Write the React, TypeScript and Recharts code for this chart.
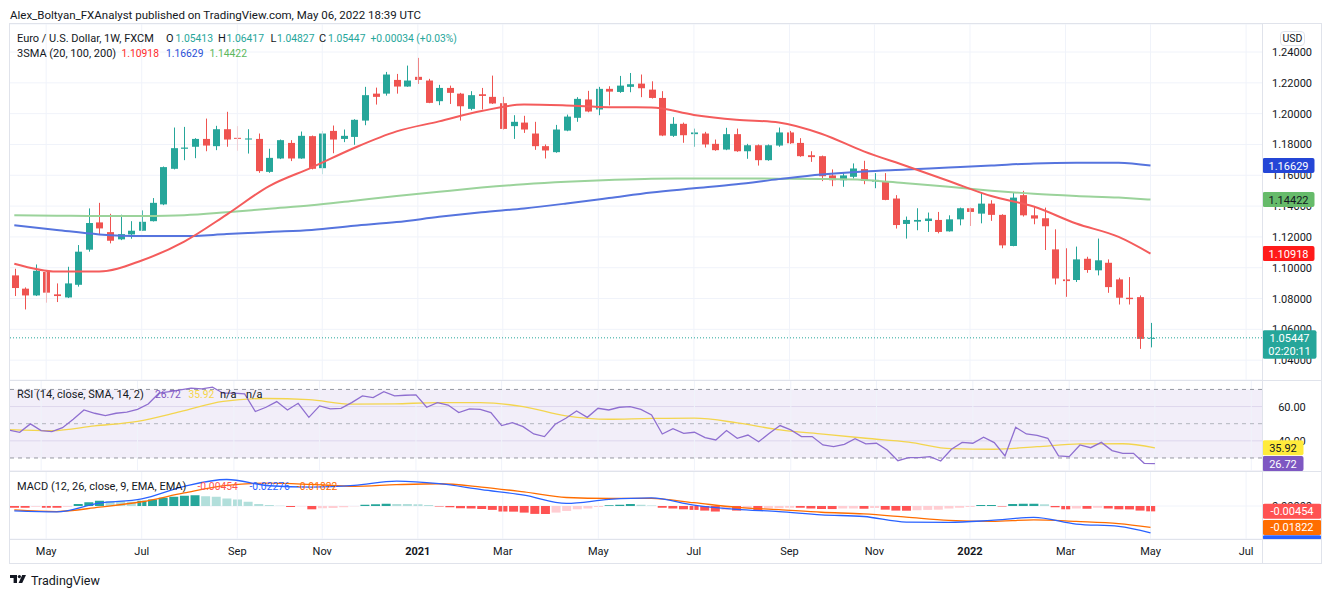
import React from 'react'
import { ComposedChart, Bar, Line, XAxis, YAxis, CartesianGrid, ReferenceLine, ReferenceArea, Cell } from 'recharts'

// weekly EUR/USD candles, first bar = week of 2020-04-13
const opens = [1.0950, 1.0864, 1.0820, 1.0972, 1.0827, 1.0807, 1.0889, 1.1117, 1.1294, 1.1231, 1.1184, 1.1216, 1.1240, 1.1302, 1.1411, 1.1642, 1.1772, 1.1785, 1.1836, 1.1789, 1.1899, 1.1843, 1.1832, 1.1836, 1.1622, 1.1709, 1.1810, 1.1709, 1.1854, 1.1646, 1.1888, 1.1836, 1.1849, 1.1955, 1.2130, 1.2130, 1.2219, 1.2176, 1.2239, 1.2215, 1.2081, 1.2167, 1.2130, 1.2031, 1.2126, 1.2109, 1.2068, 1.1919, 1.1942, 1.1871, 1.1789, 1.1750, 1.1890, 1.1973, 1.2092, 1.2027, 1.2161, 1.2141, 1.2174, 1.2195, 1.2156, 1.2102, 1.1856, 1.1934, 1.1867, 1.1871, 1.1804, 1.1767, 1.1867, 1.1756, 1.1795, 1.1698, 1.1793, 1.1878, 1.1810, 1.1730, 1.1724, 1.1599, 1.1568, 1.1590, 1.1640, 1.1559, 1.1559, 1.1449, 1.1284, 1.1299, 1.1303, 1.1310, 1.1236, 1.1314, 1.1386, 1.1351, 1.1416, 1.1343, 1.1141, 1.1471, 1.1340, 1.1321, 1.1119, 1.0924, 1.0920, 1.1058, 1.0983, 1.1032, 1.0924, 1.0805, 1.0809, 1.05413]
const highs = [1.0993, 1.0872, 1.1021, 1.0976, 1.0898, 1.1006, 1.1147, 1.1385, 1.1421, 1.1350, 1.1344, 1.1302, 1.1372, 1.1452, 1.1657, 1.1910, 1.1914, 1.1841, 1.1968, 1.1921, 1.2012, 1.1919, 1.1899, 1.1871, 1.1772, 1.1832, 1.1828, 1.1884, 1.1858, 1.1888, 1.1923, 1.1897, 1.1964, 1.2174, 1.2169, 1.2271, 1.2258, 1.2312, 1.2362, 1.2226, 1.2187, 1.2182, 1.2135, 1.2146, 1.2167, 1.2247, 1.2109, 1.1990, 1.1986, 1.1947, 1.1800, 1.1927, 1.1994, 1.2107, 1.2148, 1.2174, 1.2178, 1.2245, 1.2264, 1.2254, 1.2210, 1.2146, 1.1977, 1.1942, 1.1903, 1.1882, 1.1832, 1.1908, 1.1903, 1.1804, 1.1800, 1.1800, 1.1910, 1.1888, 1.1841, 1.1756, 1.1728, 1.1638, 1.1620, 1.1677, 1.1694, 1.1614, 1.1614, 1.1471, 1.1332, 1.1386, 1.1358, 1.1362, 1.1340, 1.1390, 1.1390, 1.1488, 1.1438, 1.1347, 1.1488, 1.1499, 1.1397, 1.1390, 1.1249, 1.1126, 1.1137, 1.1071, 1.1189, 1.1054, 1.0935, 1.0939, 1.0820, 1.06417]
const lows = [1.0816, 1.0729, 1.0816, 1.0773, 1.0777, 1.0803, 1.0877, 1.1104, 1.1218, 1.1158, 1.1179, 1.1188, 1.1238, 1.1300, 1.1406, 1.1638, 1.1698, 1.1711, 1.1756, 1.1763, 1.1785, 1.1759, 1.1741, 1.1616, 1.1616, 1.1705, 1.1692, 1.1707, 1.1638, 1.1607, 1.1743, 1.1815, 1.1798, 1.1925, 1.2059, 1.2117, 1.2130, 1.2174, 1.2193, 1.2068, 1.2055, 1.2063, 1.1955, 1.2022, 1.2027, 1.2063, 1.1897, 1.1836, 1.1875, 1.1765, 1.1709, 1.1746, 1.1886, 1.1947, 1.2009, 1.1990, 1.2053, 1.2135, 1.2139, 1.2107, 1.2098, 1.1854, 1.1849, 1.1811, 1.1785, 1.1780, 1.1759, 1.1763, 1.1752, 1.1707, 1.1663, 1.1694, 1.1785, 1.1804, 1.1720, 1.1687, 1.1562, 1.1529, 1.1525, 1.1579, 1.1542, 1.1516, 1.1438, 1.1254, 1.1189, 1.1243, 1.1232, 1.1223, 1.1234, 1.1275, 1.1271, 1.1288, 1.1304, 1.1126, 1.1139, 1.1332, 1.1282, 1.1115, 1.0891, 1.0811, 1.0907, 1.0967, 1.0950, 1.0837, 1.0761, 1.0761, 1.0473, 1.04827]
const closes = [1.0868, 1.0820, 1.0980, 1.0838, 1.0816, 1.0898, 1.1104, 1.1290, 1.1255, 1.1175, 1.1218, 1.1240, 1.1298, 1.1421, 1.1653, 1.1776, 1.1780, 1.1836, 1.1793, 1.1899, 1.1832, 1.1839, 1.1839, 1.1627, 1.1713, 1.1828, 1.1709, 1.1856, 1.1642, 1.1871, 1.1832, 1.1856, 1.1960, 1.2120, 1.2109, 1.2254, 1.2176, 1.2215, 1.2219, 1.2070, 1.2167, 1.2135, 1.2048, 1.2120, 1.2115, 1.2066, 1.1901, 1.1947, 1.1897, 1.1789, 1.1761, 1.1897, 1.1981, 1.2096, 1.2014, 1.2161, 1.2143, 1.2182, 1.2191, 1.2165, 1.2102, 1.1858, 1.1934, 1.1860, 1.1878, 1.1800, 1.1763, 1.1867, 1.1756, 1.1795, 1.1698, 1.1795, 1.1878, 1.1808, 1.1724, 1.1718, 1.1594, 1.1568, 1.1599, 1.1644, 1.1564, 1.1570, 1.1440, 1.1277, 1.1310, 1.1310, 1.1319, 1.1232, 1.1314, 1.1386, 1.1362, 1.1416, 1.1343, 1.1145, 1.1455, 1.1340, 1.1319, 1.1269, 1.0930, 1.0913, 1.1054, 1.0985, 1.1048, 1.0874, 1.0805, 1.0796, 1.0538, 1.05447]

// moving averages read every 4th bar (plus the last bar)
const sma20 = [1.1026, 1.0975, 1.0975, 1.1047, 1.1170, 1.1345, 1.1530, 1.1650, 1.1777, 1.1885, 1.1950, 1.2017, 1.2059, 1.2053, 1.2042, 1.2040, 1.1992, 1.1961, 1.1943, 1.1870, 1.1755, 1.1660, 1.1563, 1.1465, 1.1397, 1.1287, 1.1200, 1.10918]
const sma100 = [1.1276, 1.1245, 1.1216, 1.1205, 1.1205, 1.1218, 1.1232, 1.1245, 1.1272, 1.1296, 1.1330, 1.1360, 1.1385, 1.1417, 1.1452, 1.1488, 1.1515, 1.1542, 1.1575, 1.1605, 1.1625, 1.1637, 1.1650, 1.1663, 1.1677, 1.1682, 1.1682, 1.16629]
const sma200 = [1.1341, 1.1338, 1.1335, 1.1336, 1.1341, 1.1360, 1.1383, 1.1405, 1.1435, 1.1465, 1.1493, 1.1520, 1.1542, 1.1558, 1.1569, 1.1577, 1.1579, 1.1579, 1.1578, 1.1576, 1.1570, 1.1548, 1.1525, 1.1500, 1.1480, 1.1466, 1.1455, 1.14422]

const rsi = [46.3, 45.0, 49.9, 46.0, 45.4, 47.7, 52.6, 58.0, 56.1, 54.7, 56.1, 56.7, 58.4, 61.5, 67.8, 68.7, 69.7, 70.7, 70.3, 71.3, 67.8, 67.8, 67.4, 57.1, 59.6, 62.9, 58.0, 61.9, 53.7, 60.4, 58.6, 59.0, 62.3, 66.2, 65.2, 68.7, 66.2, 66.6, 66.8, 59.6, 62.3, 60.9, 56.5, 58.6, 58.4, 56.5, 48.9, 50.6, 48.3, 44.0, 42.5, 49.7, 53.2, 57.4, 53.7, 59.0, 58.0, 59.6, 60.0, 58.4, 55.1, 44.0, 47.1, 44.4, 45.0, 41.9, 40.5, 46.0, 41.5, 43.4, 39.5, 44.4, 48.9, 46.4, 42.5, 42.5, 37.6, 36.6, 38.0, 41.3, 38.2, 38.6, 34.7, 28.4, 30.2, 30.2, 30.8, 28.2, 35.1, 39.1, 38.6, 42.1, 39.0, 31.2, 47.9, 44.0, 43.2, 41.5, 31.2, 30.8, 37.6, 36.0, 39.1, 34.3, 32.7, 32.7, 26.9, 26.72]
const rsiMa = [46.5, 45.9, 48.7, 51.4, 57.0, 63.0, 64.7, 64.0, 61.4, 61.6, 62.3, 62.3, 60.0, 54.6, 52.6, 53.1, 53.2, 50.5, 46.4, 43.9, 41.5, 39.3, 35.4, 35.1, 36.6, 38.2, 38.3, 35.92]

const macdLine = [-0.0042, -0.0050, 0.0025, 0.0061, 0.0167, 0.0225, 0.0172, 0.0161, 0.0175, 0.0211, 0.0189, 0.0139, 0.0092, 0.0022, 0.0056, 0.0069, 0.0008, -0.0028, -0.0047, -0.0075, -0.0089, -0.0136, -0.0139, -0.0122, -0.0097, -0.0153, -0.0172, -0.02276]
const signalLine = [-0.0033, -0.0047, -0.0010, 0.0036, 0.0111, 0.0175, 0.0194, 0.0183, 0.0167, 0.0181, 0.0189, 0.0161, 0.0119, 0.0072, 0.0064, 0.0064, 0.0028, -0.0011, -0.0031, -0.0053, -0.0067, -0.0094, -0.0122, -0.0131, -0.0117, -0.0131, -0.0150, -0.01822]
const macdHist = [-0.0014, -0.0015, -0.0006, -0.0014, -0.0015, -0.0006, 0.0017, 0.0031, 0.0044, 0.0043, 0.0042, 0.0036, 0.0044, 0.0056, 0.0069, 0.0078, 0.0086, 0.0092, 0.0083, 0.0078, 0.0064, 0.0056, 0.0036, 0.0017, 0.0008, 0.0003, -0.0008, -0.0003, -0.0028, -0.0019, -0.0018, -0.0011, -0.0002, 0.0011, 0.0014, 0.0019, 0.0017, 0.0016, 0.0014, 0.0008, -0.0004, -0.0011, -0.0019, -0.0022, -0.0025, -0.0033, -0.0047, -0.0048, -0.0056, -0.0067, -0.0068, -0.0056, -0.0042, -0.0028, -0.0022, -0.0008, 0.0006, 0.0011, 0.0017, 0.0011, 0.0005, -0.0014, -0.0022, -0.0028, -0.0033, -0.0039, -0.0047, -0.0033, -0.0039, -0.0019, -0.0042, -0.0022, -0.0019, -0.0014, -0.0015, -0.0022, -0.0025, -0.0026, -0.0022, -0.0021, -0.0023, -0.0017, -0.0031, -0.0039, -0.0040, -0.0036, -0.0033, -0.0031, -0.0022, -0.0014, -0.0008, 0.0008, 0.0009, -0.0005, 0.0017, 0.0019, 0.0020, 0.0014, -0.0011, -0.0028, -0.0022, -0.0023, -0.0014, -0.0022, -0.0028, -0.0029, -0.0039, -0.00454]

const priceTicks = [1.04, 1.06, 1.08, 1.1, 1.12, 1.14, 1.16, 1.18, 1.2, 1.22, 1.24]
const rsiTicks = [40, 60]
const macdTicks = [0]
const MONTHS = ['Jan', 'Feb', 'Mar', 'Apr', 'May', 'Jun', 'Jul', 'Aug', 'Sep', 'Oct', 'Nov', 'Dec']

const PRICE_DOMAIN = [1.0271, 1.2582]
const RSI_DOMAIN = [22.4, 75.5]
const MACD_DOMAIN = [-0.028, 0.0297]

const TOTAL_WEEKS = 118
const weeks: string[] = []
for (let i = 0; i < TOTAL_WEEKS; i++) {
  weeks.push(new Date(Date.UTC(2020, 3, 13 + 7 * i)).toISOString().slice(0, 10))
}

const labelOf: Record<string, string> = {}
weeks.forEach((w, i) => {
  if (i === 0) return
  const m = new Date(w).getUTCMonth()
  if (m === new Date(weeks[i - 1]).getUTCMonth() || m % 2) return
  labelOf[w] = m === 0 ? String(new Date(w).getUTCFullYear()) : MONTHS[m]
})
const gridWeeks = Object.keys(labelOf)

const LAST = opens.length - 1
const sampleAt = (i: number) => (i === LAST ? sma20.length - 1 : i % 4 === 0 && i < LAST ? i / 4 : -1)

const rows = weeks.map((week, i) => {
  const s = sampleAt(i)
  const pick = (arr: number[]) => (s >= 0 ? arr[s] : null)
  return {
    week,
    o: i <= LAST ? opens[i] : null,
    h: i <= LAST ? highs[i] : null,
    l: i <= LAST ? lows[i] : null,
    c: i <= LAST ? closes[i] : null,
    sma20: pick(sma20),
    sma100: pick(sma100),
    sma200: pick(sma200),
    rsi: i <= LAST ? rsi[i] : null,
    rsiMa: pick(rsiMa),
    macd: pick(macdLine),
    signal: pick(signalLine),
    hist: i <= LAST ? macdHist[i] : null,
  }
})

const UP = '#26a69a'
const DOWN = '#ef5350'
const TXT = '#131722'
const GRID = '#f0f3fa'
const CHART_W = 1313
const MARGIN = { top: 0, right: 0, bottom: 0, left: 0 }

const histColor = (i: number) => {
  const v = macdHist[i]
  const prev = i > 0 ? macdHist[i - 1] : 0
  if (v >= 0) return v >= prev ? '#26a69a' : '#b2dfdb'
  return v < prev ? '#ff5252' : '#ffcdd2'
}

const Candle = (props: any) => {
  const { x, y, width, height, payload } = props
  if (payload.o == null || !isFinite(y)) return <g />
  const { o, h, l, c } = payload
  const top = Math.min(y, y + height)
  const H = Math.abs(height)
  const k = H / (h - l)
  const cx = Math.round(x + width / 2) + 0.5
  const bTop = top + (h - Math.max(o, c)) * k
  const bBot = top + (h - Math.min(o, c)) * k
  const col = c >= o ? UP : DOWN
  return (
    <g>
      <line x1={cx} x2={cx} y1={top} y2={top + H} stroke={col} strokeWidth={1} />
      <rect x={cx - 3.5} y={bTop} width={7} height={Math.max(1, bBot - bTop)} fill={col} />
    </g>
  )
}

const ValueTick = (props: any) => {
  const { x, y, payload, digits } = props
  return (
    <text x={x + 22} y={y} dy={4} textAnchor="middle" fontSize={11} fill={TXT}>
      {Number(payload.value).toFixed(digits)}
    </text>
  )
}

const TimeTick = (props: any) => {
  const { x, y, payload } = props
  const lab = labelOf[payload.value]
  if (!lab) return <g />
  return (
    <text x={x} y={y} dy={8} textAnchor="middle" fontSize={11} fontWeight={/^\d/.test(lab) ? 700 : 400} fill={TXT}>
      {lab}
    </text>
  )
}

const Tag = (props: any) => {
  const { viewBox, text, sub, bg, fg = '#fff', w, shift = 0, clip } = props
  if (!viewBox) return null
  const x = viewBox.x + viewBox.width + 0.5
  const cy = viewBox.y + shift
  const h = sub ? 28.5 : 15
  const top = cy - 7.5
  const hh = clip != null ? clip : h
  return (
    <g>
      <rect x={x} y={top} width={w} height={hh} rx={2} fill={bg} />
      {clip == null && (
        <text x={x + w / 2} y={cy + 4} textAnchor="middle" fontSize={11} fill={fg}>{text}</text>
      )}
      {sub && (
        <text x={x + w / 2} y={cy + 17.5} textAnchor="middle" fontSize={11} fill={fg}>{sub}</text>
      )}
    </g>
  )
}

// transparent chart on top of a pane that only carries the price tags
const TagLayer = ({ height, domain, axisH = 0, children }: any) => (
  <ComposedChart width={CHART_W} height={height} data={rows} margin={MARGIN}>
    <XAxis dataKey="week" type="category" height={axisH} tick={false} axisLine={false} tickLine={false} hide={axisH === 0} />
    <YAxis orientation="right" width={60} type="number" domain={domain} allowDataOverflow tick={false} axisLine={false} tickLine={false} />
    {children}
  </ComposedChart>
)

const Seg = ({ x, y, color = TXT, size = 11, children }: any) => (
  <div style={{ position: 'absolute', left: x, top: y - 8, height: 16, lineHeight: '16px', fontSize: size, color, whiteSpace: 'nowrap' }}>
    {children}
  </div>
)
const Num = (p: any) => <Seg size={10.3} {...p} />

const HLine = ({ x, y, w }: any) => <div style={{ position: 'absolute', left: x, top: y, width: w, height: 1, background: '#e0e3eb' }} />
const VLine = ({ x, y, h }: any) => <div style={{ position: 'absolute', left: x, top: y, width: 1, height: h, background: '#e0e3eb' }} />

const monthLines = gridWeeks.map((w) => <ReferenceLine key={w} x={w} stroke={GRID} strokeWidth={1} />)

const abs = (top: number): React.CSSProperties => ({ position: 'absolute', left: 9, top })

export default function App() {
  const lastRsiMa = rsiMa[rsiMa.length - 1]
  const last20 = sma20[sma20.length - 1]
  const last100 = sma100[sma100.length - 1]
  const last200 = sma200[sma200.length - 1]
  const lastMacd = macdLine[macdLine.length - 1]
  const lastSignal = signalLine[signalLine.length - 1]
  return (
    <div style={{ position: 'absolute', left: 0, top: 0, width: 1332, height: 597, background: '#fff', fontFamily: 'Roboto, sans-serif', color: TXT, overflow: 'hidden' }}>
      <Seg x={10} y={15} size={11.5}>Alex_Boltyan_FXAnalyst published on TradingView.com, May 06, 2022 18:39 UTC</Seg>

      {/* price pane */}
      <div style={abs(24)}>
        <ComposedChart width={CHART_W} height={356} data={rows} margin={MARGIN}>
          <CartesianGrid vertical={false} stroke={GRID} />
          {monthLines}
          <XAxis dataKey="week" type="category" hide />
          <YAxis orientation="right" width={60} type="number" domain={PRICE_DOMAIN} allowDataOverflow ticks={priceTicks} axisLine={false} tickLine={false} tick={<ValueTick digits={5} />} />
          <ReferenceLine y={closes[LAST]} stroke={UP} strokeDasharray="1 2" />
          <Bar dataKey={(d: any) => (d.o == null ? null : [d.l, d.h])} barSize={7} shape={<Candle />} isAnimationActive={false} />
          <Line type="monotone" dataKey="sma200" stroke="#9bd39b" strokeWidth={2} dot={false} connectNulls isAnimationActive={false} />
          <Line type="monotone" dataKey="sma100" stroke="#5674de" strokeWidth={2} dot={false} connectNulls isAnimationActive={false} />
          <Line type="monotone" dataKey="sma20" stroke="#f45c5c" strokeWidth={2} dot={false} connectNulls isAnimationActive={false} />
        </ComposedChart>
      </div>
      <div style={abs(24)}>
        <TagLayer height={356} domain={PRICE_DOMAIN}>
          <ReferenceLine y={last100} stroke="none" label={<Tag text={last100.toFixed(5)} bg="#2446d6" w={52} />} />
          <ReferenceLine y={last200} stroke="none" label={<Tag text={last200.toFixed(5)} bg="#66bb6a" fg={TXT} w={52} />} />
          <ReferenceLine y={last20} stroke="none" label={<Tag text={last20.toFixed(5)} bg="#ff1a1a" w={52} />} />
          <ReferenceLine y={closes[LAST]} stroke="none" label={<Tag text={closes[LAST].toFixed(5)} sub="02:20:11" bg={UP} w={54} />} />
        </TagLayer>
      </div>

      {/* RSI pane */}
      <div style={abs(380)}>
        <ComposedChart width={CHART_W} height={91} data={rows} margin={MARGIN}>
          <ReferenceArea y1={30} y2={70} fill="#7e57c2" fillOpacity={0.1} stroke="none" />
          <CartesianGrid vertical={false} stroke="#e9e6f2" />
          {monthLines}
          <XAxis dataKey="week" type="category" hide />
          <YAxis orientation="right" width={60} type="number" domain={RSI_DOMAIN} allowDataOverflow ticks={rsiTicks} axisLine={false} tickLine={false} tick={<ValueTick digits={2} />} />
          <ReferenceLine y={70} stroke="#9598a1" strokeDasharray="4 4" />
          <ReferenceLine y={50} stroke="#b2b5be" strokeDasharray="4 4" />
          <ReferenceLine y={30} stroke="#9598a1" strokeDasharray="4 4" />
          <Line type="monotone" dataKey="rsiMa" stroke="#f3d54e" strokeWidth={1.3} dot={false} connectNulls isAnimationActive={false} />
          <Line type="linear" dataKey="rsi" stroke="#8f6fd0" strokeWidth={1.3} dot={false} isAnimationActive={false} />
        </ComposedChart>
      </div>
      <div style={abs(380)}>
        <TagLayer height={91} domain={RSI_DOMAIN}>
          <ReferenceLine y={lastRsiMa} stroke="none" label={<Tag text={lastRsiMa.toFixed(2)} bg="#ffeb3b" fg={TXT} w={41} />} />
          <ReferenceLine y={rsi[LAST]} stroke="none" label={<Tag text={rsi[LAST].toFixed(2)} bg="#7e57c2" w={41} />} />
        </TagLayer>
      </div>

      {/* MACD pane + time axis */}
      <div style={abs(471)}>
        <ComposedChart width={CHART_W} height={92} data={rows} margin={MARGIN}>
          <CartesianGrid vertical={false} stroke={GRID} />
          {monthLines}
          <XAxis dataKey="week" type="category" height={24} interval={0} axisLine={false} tickLine={false} tick={<TimeTick />} />
          <YAxis orientation="right" width={60} type="number" domain={MACD_DOMAIN} allowDataOverflow ticks={macdTicks} axisLine={false} tickLine={false} tick={<ValueTick digits={5} />} />
          <Bar dataKey="hist" barSize={9} isAnimationActive={false}>
            {rows.map((r, i) => (
              <Cell key={r.week} fill={i <= LAST ? histColor(i) : 'none'} />
            ))}
          </Bar>
          <Line type="monotone" dataKey="signal" stroke="#ff6d00" strokeWidth={1.3} dot={false} connectNulls isAnimationActive={false} />
          <Line type="monotone" dataKey="macd" stroke="#2962ff" strokeWidth={1.3} dot={false} connectNulls isAnimationActive={false} />
        </ComposedChart>
      </div>
      <div style={abs(471)}>
        <TagLayer height={92} domain={MACD_DOMAIN} axisH={24}>
          <ReferenceLine y={macdHist[LAST]} stroke="none" label={<Tag text={macdHist[LAST].toFixed(5)} bg="#ff5252" w={59} />} />
          <ReferenceLine y={lastSignal} stroke="none" label={<Tag text={lastSignal.toFixed(5)} bg="#ff6d00" w={59} />} />
          <ReferenceLine y={lastMacd} stroke="none" label={<Tag text={lastMacd.toFixed(5)} bg="#2962ff" w={59} shift={10} clip={4} />} />
        </TagLayer>
      </div>

      {/* frame */}
      <HLine x={9} y={23} w={1313} />
      <HLine x={9} y={380} w={1313} />
      <HLine x={9} y={471} w={1313} />
      <HLine x={9} y={539} w={1313} />
      <HLine x={9} y={563} w={1313} />
      <VLine x={9} y={23} h={541} />
      <VLine x={1262} y={23} h={541} />
      <VLine x={1321} y={23} h={541} />

      <div style={{ position: 'absolute', left: 1280, top: 31, width: 25, height: 15, border: '1px solid #e0e3eb', borderRadius: 4, boxSizing: 'border-box', fontSize: 10.5, lineHeight: '13px', textAlign: 'center', background: '#fff' }}>USD</div>

      {/* legends */}
      <Seg x={17} y={39}>Euro / U.S. Dollar, 1W, FXCM</Seg>
      <Seg x={166} y={39}>O</Seg>
      <Num x={175.5} y={39} color={UP}>{opens[LAST].toFixed(5)}</Num>
      <Seg x={218} y={39}>H</Seg>
      <Num x={226.5} y={39} color={UP}>{highs[LAST].toFixed(5)}</Num>
      <Seg x={270.5} y={39}>L</Seg>
      <Num x={277} y={39} color={UP}>{lows[LAST].toFixed(5)}</Num>
      <Seg x={319} y={39}>C</Seg>
      <Num x={328} y={39} color={UP}>{closes[LAST].toFixed(5)}</Num>
      <Num x={370.5} y={39} color={UP}>+0.00034 (+0.03%)</Num>

      <Seg x={17} y={54}>3SMA (20, 100, 200)</Seg>
      <Num x={121.5} y={54} color="#ff2a2a">{last20.toFixed(5)}</Num>
      <Num x={166} y={54} color="#2a4fd6">{last100.toFixed(5)}</Num>
      <Num x={209.5} y={54} color="#5cb85c">{last200.toFixed(5)}</Num>

      <Seg x={17} y={395}>RSI (14, close, SMA, 14, 2)</Seg>
      <Num x={155} y={395} color="#7e57c2">{rsi[LAST].toFixed(2)}</Num>
      <Num x={188.5} y={395} color="#f5d54a">{lastRsiMa.toFixed(2)}</Num>
      <Seg x={220} y={395}>n/a</Seg>
      <Seg x={246} y={395}>n/a</Seg>

      <Seg x={17} y={487}>MACD (12, 26, close, 9, EMA, EMA)</Seg>
      <Num x={197.5} y={487} color="#ff5252">{macdHist[LAST].toFixed(5)}</Num>
      <Num x={249.5} y={487} color="#2962ff">{lastMacd.toFixed(5)}</Num>
      <Num x={297} y={487} color="#ff6d00">{lastSignal.toFixed(5)}</Num>

      {/* footer logo */}
      <svg style={{ position: 'absolute', left: 10, top: 575 }} width={18} height={8} viewBox="0 0 18 8">
        <path d="M0 0h7v8H3.6V3H0z" fill={TXT} />
        <circle cx="9.4" cy="1.6" r="1.6" fill={TXT} />
        <path d="M12.2 0H16l-3.8 8H8.6z" fill={TXT} />
      </svg>
      <Seg x={31} y={581} size={12.5}>TradingView</Seg>
    </div>
  )
}
